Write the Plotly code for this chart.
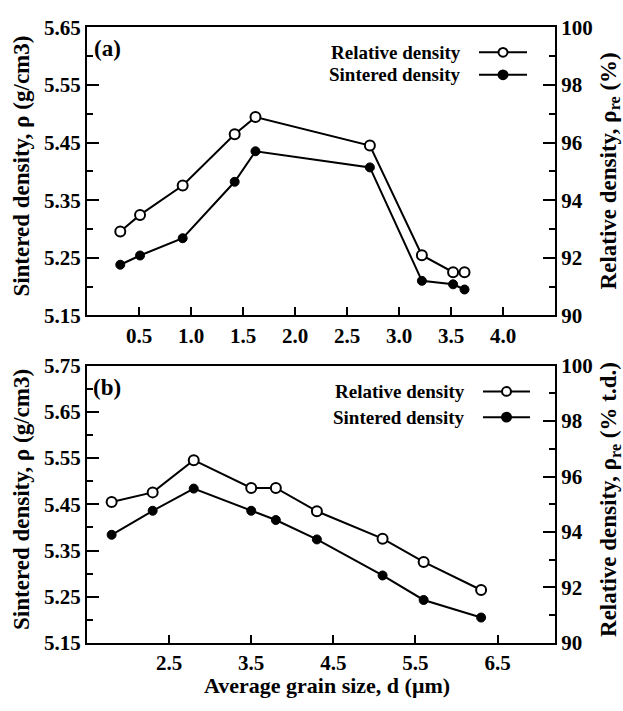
import plotly.graph_objects as go

# ---- data ----
grain_a = [0.32, 0.51, 0.92, 1.42, 1.62, 2.72, 3.22, 3.52, 3.63]
rel_a = [92.91, 93.49, 94.51, 96.29, 96.89, 95.90, 92.09, 91.50, 91.50]
sint_a = [5.238, 5.254, 5.284, 5.382, 5.435, 5.407, 5.210, 5.204, 5.195]

grain_b = [1.8, 2.3, 2.8, 3.5, 3.8, 4.3, 5.1, 5.6, 6.3]
rel_b = [95.08, 95.43, 96.59, 95.59, 95.59, 94.75, 93.76, 92.92, 91.91]
sint_b = [5.384, 5.436, 5.484, 5.436, 5.416, 5.374, 5.296, 5.243, 5.205]

xticks_a = [0.5, 1.0, 1.5, 2.0, 2.5, 3.0, 3.5, 4.0]
xticks_b = [2.5, 3.5, 4.5, 5.5, 6.5]
yticks_a = [5.15, 5.25, 5.35, 5.45, 5.55, 5.65]
yticks_b = [5.15, 5.25, 5.35, 5.45, 5.55, 5.65, 5.75]
rticks = [90, 92, 94, 96, 98, 100]

W, H = 623, 711
FONT = "Liberation Serif"


def px(x):
    return x / W


def py(y):
    return 1 - y / H


def bold(vals, fmt):
    return ["<b>" + format(v, fmt) + "</b>" for v in vals]


fig = go.Figure()

line = dict(color="black", width=2)
open_m = dict(symbol="circle", size=10, color="white", line=dict(color="black", width=2))
fill_m = dict(symbol="circle", size=9, color="black", line=dict(color="black", width=1))

fig.add_trace(go.Scatter(x=grain_a, y=sint_a, mode="lines+markers", line=line, marker=fill_m,
                         xaxis="x", yaxis="y", showlegend=False))
fig.add_trace(go.Scatter(x=grain_a, y=rel_a, mode="lines+markers", line=line, marker=open_m,
                         xaxis="x", yaxis="y2", showlegend=False))
fig.add_trace(go.Scatter(x=grain_b, y=sint_b, mode="lines+markers", line=line, marker=fill_m,
                         xaxis="x2", yaxis="y3", showlegend=False))
fig.add_trace(go.Scatter(x=grain_b, y=rel_b, mode="lines+markers", line=line, marker=open_m,
                         xaxis="x2", yaxis="y4", showlegend=False))

tickfont = dict(family=FONT, size=21, color="black")
common = dict(showgrid=False, zeroline=False, showline=True, linecolor="black", linewidth=2,
              tickfont=tickfont, ticks="inside", tickcolor="black", tickwidth=2)

xdom = [px(87), px(555)]
ydom_a = [py(314), py(16)]
ydom_b = [py(653), py(366)]

minor_y = dict(ticklen=6, ticks="inside", tickcolor="black", tickwidth=1.5)

fig.update_layout(
    width=W, height=H, margin=dict(l=0, r=0, t=0, b=0),
    plot_bgcolor="white", paper_bgcolor="white",
    xaxis=dict(domain=xdom, range=[0, 4.5], tickvals=xticks_a, ticktext=bold(xticks_a, ".1f"),
               ticklen=8, mirror=True, anchor="y", **common),
    yaxis=dict(domain=ydom_a, range=[5.15, 5.65], tickvals=yticks_a, ticktext=bold(yticks_a, ".2f"),
               ticklen=12, mirror=True, anchor="x",
               minor=dict(dtick=0.05, tick0=5.15, **minor_y), **common),
    yaxis2=dict(range=[90, 100], tickvals=rticks, ticktext=bold(rticks, "d"),
                overlaying="y", side="right", anchor="x",
                ticklen=12, minor=dict(dtick=1, tick0=90, **minor_y), **common),
    xaxis2=dict(domain=xdom, range=[1.5, 7.2], tickvals=xticks_b, ticktext=bold(xticks_b, ".1f"),
                ticklen=8, mirror=True, anchor="y3", **common),
    yaxis3=dict(domain=ydom_b, range=[5.15, 5.75], tickvals=yticks_b, ticktext=bold(yticks_b, ".2f"),
                ticklen=12, mirror=True, anchor="x2",
                minor=dict(dtick=0.05, tick0=5.15, **minor_y), **common),
    yaxis4=dict(range=[90, 100], tickvals=rticks, ticktext=bold(rticks, "d"),
                overlaying="y3", side="right", anchor="x2",
                ticklen=12, minor=dict(dtick=1, tick0=90, **minor_y), **common),
)

vfont = dict(family=FONT, size=23, color="black")
hfont = dict(family=FONT, size=22, color="black")
pfont = dict(family=FONT, size=23, color="black")
ann = [
    dict(text="<b>Sintered density, ρ (g/cm3)</b>", x=px(22), y=py(160), textangle=-90, font=vfont),
    dict(text="<b>Relative density, ρ<sub>re</sub> (%)</b>", x=px(610), y=py(165), textangle=-90, font=vfont),
    dict(text="<b>Sintered density, ρ (g/cm3)</b>", x=px(22), y=py(505), textangle=-90, font=vfont),
    dict(text="<b>Relative density, ρ<sub>re</sub> (% t.d.)</b>", x=px(610), y=py(505), textangle=-90, font=vfont),
    dict(text="<b>Average grain size, d (μm)</b>", x=px(327), y=py(697), font=hfont),
    dict(text="<b>(a)</b>", x=px(107), y=py(38), font=pfont),
    dict(text="<b>(b)</b>", x=px(107), y=py(389), font=pfont),
]
lfont = dict(family=FONT, size=19, color="black")
legends = [
    (463, 479, 527, 41.7, "open", "Relative density"),
    (463, 479, 527, 65.0, "fill", "Sintered density"),
    (467, 483, 530, 392.7, "open", "Relative density"),
    (467, 483, 530, 419.3, "fill", "Sintered density"),
]
shapes = []
for tx, lx0, lx1, ly, kind, label in legends:
    ann.append(dict(text="<b>" + label + "</b>", x=px(tx), y=py(ly), xanchor="right", font=lfont))
    shapes.append(dict(type="line", xref="paper", yref="paper", x0=px(lx0), x1=px(lx1),
                       y0=py(ly), y1=py(ly), line=dict(color="black", width=2)))
    cx = (lx0 + lx1) / 2
    r = 4.5
    shapes.append(dict(type="circle", xref="paper", yref="paper",
                       x0=px(cx - r), x1=px(cx + r), y0=py(ly + r), y1=py(ly - r),
                       fillcolor="white" if kind == "open" else "black",
                       line=dict(color="black", width=2)))
for a in ann:
    a.update(xref="paper", yref="paper", showarrow=False)
    a.setdefault("xanchor", "center")
    a["yanchor"] = "middle"
fig.update_layout(annotations=ann, shapes=shapes)

fig.write_html("out.html")
